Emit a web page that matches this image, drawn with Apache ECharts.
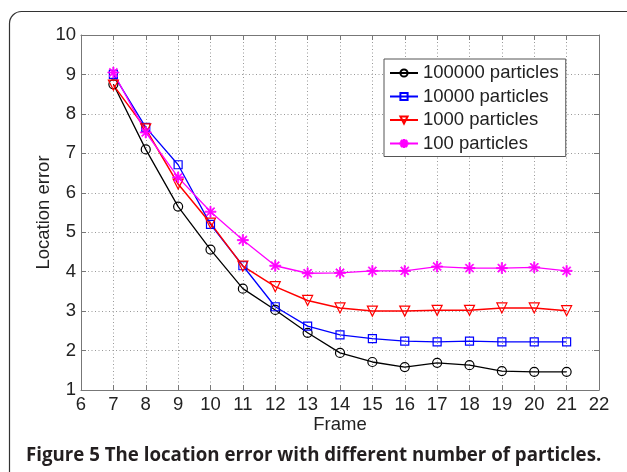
<!DOCTYPE html>
<html><head><meta charset="utf-8">
<script src="https://cdn.jsdelivr.net/npm/echarts@6/dist/echarts.min.js"></script>
<style>html,body{margin:0;padding:0;background:#fff}#c{width:627px;height:472px}</style>
</head><body><div id="c"></div>
<script>
// ---- data ----
const frames = [7, 8, 9, 10, 11, 12, 13, 14, 15, 16, 17, 18, 19, 20, 21];
const err100000 = [8.75, 7.10, 5.65, 4.56, 3.57, 3.03, 2.45, 1.94, 1.71, 1.58, 1.69, 1.63, 1.48, 1.46, 1.46];
const err10000  = [9.00, 7.66, 6.71, 5.20, 4.15, 3.11, 2.62, 2.40, 2.30, 2.24, 2.22, 2.24, 2.22, 2.22, 2.22];
const err1000   = [8.73, 7.62, 6.22, 5.23, 4.14, 3.62, 3.27, 3.08, 3.00, 3.00, 3.02, 3.02, 3.08, 3.08, 3.01];
const err100    = [9.05, 7.53, 6.39, 5.52, 4.80, 4.15, 3.96, 3.97, 4.02, 4.02, 4.13, 4.09, 4.09, 4.11, 4.02];
const seriesNames = ['100000 particles', '10000 particles', '1000 particles', '100 particles'];
const xTicks = {min: 6, max: 22, step: 1};
const yTicks = {min: 1, max: 10, step: 1};
const axisLabels = {x: 'Frame', y: 'Location error'};
const captionBold = 'Figure 5';
const captionRest = ' The location error with different number of particles.';

const pairs = arr => frames.map((f, i) => [f, arr[i]]);
const FONT = 'Liberation Sans';
const star = 'path://M-0.5,-5L0.5,-5L0.5,5L-0.5,5Z M-5,-0.5L5,-0.5L5,0.5L-5,0.5Z M-3.15,-3.85L3.85,3.15L3.15,3.85L-3.85,-3.15Z M3.15,-3.85L3.85,-3.15L-3.15,3.85L-3.85,3.15Z';

function mkSeries(name, data, color, symbol, size, rotate, lw, fillSym) {
  return {
    name, type: 'line', data: pairs(data), symbol, symbolSize: size, symbolRotate: rotate,
    xAxisIndex: 0, yAxisIndex: 0,
    showAllSymbol: true,
    lineStyle: {color, width: lw},
    itemStyle: fillSym ? {color, borderColor: color, borderWidth: 0.8}
                       : {color: 'rgba(255,255,255,0)', borderColor: color, borderWidth: 1.2},
    emphasis: {disabled: true}, animation: false, z: 3
  };
}

const chart = echarts.init(document.getElementById('c'), null, {renderer: 'canvas'});
const axisColor = '#777';
const labelColor = '#222';
const TS = 18.5;
const baseX = {type: 'value', min: xTicks.min, max: xTicks.max, interval: xTicks.step};
const baseY = {type: 'value', min: yTicks.min, max: yTicks.max, interval: yTicks.step};
const option = {
  backgroundColor: '#fff',
  animation: false,
  grid: {left: 81, top: 35, width: 518, height: 355, containLabel: false},
  xAxis: [
    Object.assign({}, baseX, {
      position: 'bottom',
      name: axisLabels.x, nameLocation: 'middle', nameGap: 25, nameMoveOverlap: false,
      nameTextStyle: {fontFamily: FONT, fontSize: TS, color: labelColor},
      axisLine: {show: true, lineStyle: {color: axisColor, width: 1}},
      axisTick: {show: true, inside: true, length: 5, lineStyle: {color: axisColor}},
      axisLabel: {fontFamily: FONT, fontSize: TS, color: labelColor, margin: 5},
      splitLine: {show: true, lineStyle: {color: '#999', type: [1, 2.5], width: 1}}
    }),
    Object.assign({}, baseX, {
      position: 'top',
      axisLine: {show: true, lineStyle: {color: axisColor, width: 1}},
      axisTick: {show: true, inside: true, length: 5, lineStyle: {color: axisColor}},
      axisLabel: {show: false}, splitLine: {show: false}
    })
  ],
  yAxis: [
    Object.assign({}, baseY, {
      position: 'left',
      name: axisLabels.y, nameLocation: 'middle', nameGap: 28, nameRotate: 90, nameMoveOverlap: false,
      nameTextStyle: {fontFamily: FONT, fontSize: TS, color: labelColor},
      axisLine: {show: true, lineStyle: {color: axisColor, width: 1}},
      axisTick: {show: true, inside: true, length: 5, lineStyle: {color: axisColor}},
      axisLabel: {fontFamily: FONT, fontSize: TS, color: labelColor, margin: 5},
      splitLine: {show: true, lineStyle: {color: '#999', type: [1, 2.5], width: 1}}
    }),
    Object.assign({}, baseY, {
      position: 'right',
      axisLine: {show: true, lineStyle: {color: axisColor, width: 1}},
      axisTick: {show: true, inside: true, length: 5, lineStyle: {color: axisColor}},
      axisLabel: {show: false}, splitLine: {show: false}
    })
  ],
  legend: {
    orient: 'vertical', left: 384, top: 59,
    data: seriesNames,
    backgroundColor: '#fff', borderColor: '#555', borderWidth: 1,
    padding: [4, 7, 3, 5], itemGap: 3.5, itemWidth: 28, itemHeight: 9,
    textStyle: {fontFamily: FONT, fontSize: TS, color: labelColor, lineHeight: 20},
    selectedMode: false, z: 10
  },
  series: [
    mkSeries(seriesNames[0], err100000, '#000000', 'circle', 9, 0, 1.3, false),
    mkSeries(seriesNames[1], err10000, '#0000ff', 'rect', 8, 0, 1.3, false),
    mkSeries(seriesNames[2], err1000, '#ff0000', 'triangle', 10, 180, 1.5, false),
    mkSeries(seriesNames[3], err100, '#ff00ff', star, 11, 0, 1.3, true)
  ],
  graphic: [
    {type: 'rect', shape: {x: 9.5, y: 11.5, width: 640, height: 490, r: 12},
     style: {fill: 'none', stroke: '#333', lineWidth: 1.2}, silent: true, z: 0},
    {type: 'text', left: 26, top: 446, z: 5,
     style: {text: '{b|' + captionBold + '}{r|' + captionRest + '}',
       rich: {
         b: {fontFamily: 'Open Sans', fontWeight: 'bold', fontSize: 18.7, fill: '#231f20'},
         r: {fontFamily: 'Open Sans', fontWeight: 'bold', fontSize: 18.7, fill: '#231f20'}
       }}}
  ]
};
chart.setOption(option);
</script></body></html>
